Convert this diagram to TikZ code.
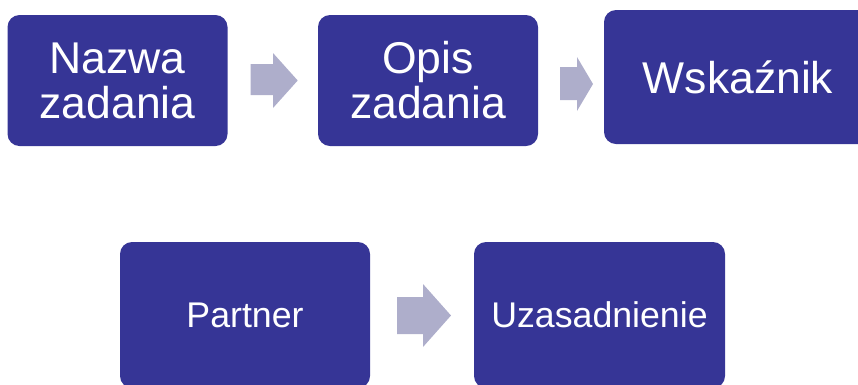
\documentclass[tikz,border=0pt]{standalone}
\usepackage{fontspec}
\setmainfont{Liberation Sans}
\definecolor{boxblue}{RGB}{54,53,150}
\definecolor{arrowgrey}{RGB}{174,174,203}
\tikzset{
  stepbox/.style={fill=boxblue, draw=none, rounded corners=12pt, text=white, align=center, inner sep=0pt},
  bigtxt/.style={font=\fontsize{44.5}{45}\selectfont},
  smalltxt/.style={font=\fontsize{35.7}{38}\selectfont},
  blockarrow/.style={fill=arrowgrey, draw=none}
}
\begin{document}
\begin{tikzpicture}[x=1pt,y=-1pt]
\useasboundingbox (0,0) rectangle (858,384);
\begin{scope}
\clip (0,0) rectangle (858,384);
\node[stepbox, bigtxt, minimum width=220pt, minimum height=131pt] (nazwa) at (117.5,80.5) {Nazwa\\zadania};
\node[stepbox, bigtxt, minimum width=220pt, minimum height=131pt] (opis) at (428,80.5) {Opis\\zadania};
\node[stepbox, bigtxt, minimum width=268pt, minimum height=134pt] (wsk) at (738,77) {Wska\'znik};
\node[stepbox, smalltxt, minimum width=250pt, minimum height=146pt] (partner) at (245,315) {Partner};
\node[stepbox, smalltxt, minimum width=251pt, minimum height=146pt] (uzas) at (599.5,315) {Uzasadnienie};
% block arrows
\fill[blockarrow] (250.7,64) -- (273,64) -- (273,53) -- (297.7,80.5) -- (273,108) -- (273,95) -- (250.7,95) -- cycle;
\fill[blockarrow] (560,67) -- (577,67) -- (577,57) -- (593,84) -- (577,111) -- (577,100) -- (560,100) -- cycle;
\fill[blockarrow] (397,297) -- (423,297) -- (423,284) -- (451,315.5) -- (423,347) -- (423,334) -- (397,334) -- cycle;
\end{scope}
\end{tikzpicture}
\end{document}
